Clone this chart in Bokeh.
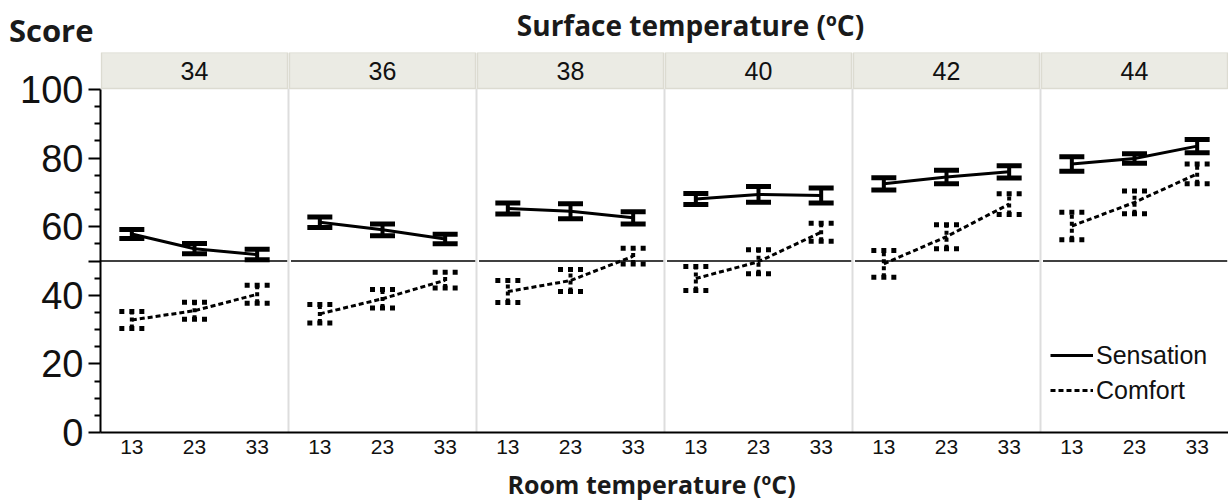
from bokeh.plotting import figure
from bokeh.layouts import column
from bokeh.models import (Range1d, FixedTicker, Whisker, TeeHead, ColumnDataSource,
                          Legend, LegendItem)
from bokeh.core.properties import value
from bokeh.embed import file_html
from bokeh.resources import INLINE

# ---- data ----
surface = ["34", "36", "38", "40", "42", "44"]          # panel headers (surface temp, ºC)
room = ["13", "23", "33"]                                # x categories (room temp, ºC)
sensation_mean = [[57.9, 53.6, 51.9], [61.3, 59.1, 56.4], [65.3, 64.5, 62.6],
                  [68.1, 69.4, 69.1], [72.5, 74.5, 76.0], [78.3, 79.9, 83.5]]
sensation_err = [[1.3, 1.5, 1.5], [1.5, 1.7, 1.4], [1.6, 2.2, 1.8],
                 [1.6, 2.3, 2.2], [1.8, 2.0, 1.8], [2.1, 1.4, 1.9]]
comfort_mean = [[32.8, 35.5, 40.3], [34.6, 39.0, 44.4], [41.1, 44.3, 51.4],
                [44.9, 49.8, 58.4], [49.2, 57.1, 66.6], [60.2, 67.1, 75.4]]
comfort_err = [[2.5, 2.5, 2.6], [2.7, 2.7, 2.3], [3.2, 3.2, 2.3],
               [3.5, 3.5, 2.6], [3.9, 3.5, 3.0], [4.0, 3.3, 2.9]]
y_major = [0, 20, 40, 50, 60, 80, 100]
neutral = 50

NP = len(surface)
NC = len(room)
YTOP = 110.8
W = 1228
LEFT = 100
TOP_H = 52
BOT_H = 34
MAIN_H = 500 - TOP_H - BOT_H
TITLE_FONT = "Open Sans"


def text_strip(h):
    f = figure(width=W, height=h, x_range=Range1d(LEFT, W), y_range=Range1d(0, h),
               output_backend="svg", toolbar_location=None,
               min_border_left=LEFT, min_border_right=0, min_border_top=0, min_border_bottom=0)
    f.xaxis.visible = False
    f.grid.visible = False
    f.outline_line_color = None
    return f


# ---- top strip with the titles (data units = pixels) ----
top = text_strip(TOP_H)
tya = top.yaxis[0]
score_y = 22.5
tya.ticker = FixedTicker(ticks=[score_y], minor_ticks=[])
tya.major_label_overrides = {score_y: "Score"}
tya.axis_line_color = None
tya.major_tick_line_color = None
tya.minor_tick_line_color = None
tya.major_tick_out = 0
tya.minor_tick_out = 0
tya.major_label_text_font = TITLE_FONT
tya.major_label_text_font_style = "bold"
tya.major_label_text_font_size = "31px"
tya.major_label_text_color = "#1a1a1a"
tya.major_label_standoff = 7
top.text(x=[690], y=[TOP_H - 24], text=["Surface temperature (ºC)"], text_font=value(TITLE_FONT),
         text_font_style="bold", text_font_size="28px", text_color="#1a1a1a",
         text_align="center", text_baseline="middle")

# ---- bottom strip with the x title ----
bot = text_strip(BOT_H)
bot.yaxis.visible = False
bot.text(x=[651], y=[17], text=["Room temperature (ºC)"], text_font=value(TITLE_FONT),
         text_font_style="bold", text_font_size="25px", text_color="#1a1a1a",
         text_align="center", text_baseline="middle")

# ---- main panel figure ----
p = figure(width=W, height=MAIN_H, x_range=Range1d(0, NP * NC), y_range=Range1d(0, YTOP),
           output_backend="svg", toolbar_location=None,
           min_border_left=LEFT, min_border_right=0, min_border_top=0,
           min_border_bottom=MAIN_H - 380)
p.xgrid.visible = False
p.ygrid.visible = False
p.outline_line_color = None
p.background_fill_color = "white"

px = [[i * NC + j + 0.5 for j in range(NC)] for i in range(NP)]

# panel separators, headers, neutral line
p.segment(x0=[i * NC for i in range(1, NP)], x1=[i * NC for i in range(1, NP)],
          y0=0, y1=100.3, line_color="#dddddd", line_width=2)
p.quad(left=[i * NC + 0.015 for i in range(NP)], right=[(i + 1) * NC - 0.015 for i in range(NP)],
       bottom=100.3, top=YTOP, fill_color="#ebebe4", line_color="#dcdbd1", line_width=1.5)
p.text(x=[i * NC + NC / 2 for i in range(NP)], y=[105.5] * NP, text=surface,
       text_font=value("Liberation Sans"), text_font_size="25px", text_color="#111111",
       text_align="center", text_baseline="middle")
p.segment(x0=[0 if i == 0 else i * NC + 0.04 for i in range(NP)],
          x1=[(i + 1) * NC - 0.02 for i in range(NP)],
          y0=neutral, y1=neutral, line_color="black", line_width=1.5)

# series lines
sens_r = p.multi_line(xs=px, ys=sensation_mean, line_color="black", line_width=3)
comf_r = p.multi_line(xs=px, ys=comfort_mean, line_color="black", line_width=3, line_dash="5 3")

# error bars
flat_x = [x for row in px for x in row]
s_m = [v for row in sensation_mean for v in row]
s_e = [v for row in sensation_err for v in row]
c_m = [v for row in comfort_mean for v in row]
c_e = [v for row in comfort_err for v in row]
s_src = ColumnDataSource(dict(x=flat_x, upper=[m + e for m, e in zip(s_m, s_e)],
                              lower=[m - e for m, e in zip(s_m, s_e)]))
c_src = ColumnDataSource(dict(x=flat_x, upper=[m + e for m, e in zip(c_m, c_e)],
                              lower=[m - e for m, e in zip(c_m, c_e)]))
p.add_layout(Whisker(source=s_src, base="x", upper="upper", lower="lower", dimension="height",
                     line_width=4, line_color="black",
                     upper_head=TeeHead(size=25, line_width=5, line_color="black"),
                     lower_head=TeeHead(size=25, line_width=5, line_color="black")))
p.add_layout(Whisker(source=c_src, base="x", upper="upper", lower="lower", dimension="height",
                     line_width=4, line_color="black", line_dash="4 3",
                     upper_head=TeeHead(size=25, line_width=5, line_color="black", line_dash="5 5"),
                     lower_head=TeeHead(size=25, line_width=5, line_color="black", line_dash="5 5")))

# axes
ya = p.yaxis[0]
ya.ticker = FixedTicker(ticks=y_major, minor_ticks=[v for v in range(0, 101, 5) if v not in y_major])
ya.major_label_overrides = {neutral: ""}
ya.bounds = (0, 100)
ya.axis_line_width = 2
ya.major_tick_line_width = 2
ya.minor_tick_line_width = 2
ya.major_tick_out = 12
ya.major_tick_in = 0
ya.minor_tick_out = 6
ya.minor_tick_in = 0
ya.major_label_text_font = "Liberation Sans"
ya.major_label_text_font_size = "38px"
ya.major_label_text_color = "#111111"
ya.major_label_standoff = 5

xa = p.xaxis[0]
xa.ticker = FixedTicker(ticks=flat_x, minor_ticks=[])
xa.major_label_overrides = {x: room[k % NC] for k, x in enumerate(flat_x)}
xa.axis_line_width = 2
xa.major_tick_out = 0
xa.major_tick_in = 0
xa.minor_tick_out = 0
xa.major_label_text_font = "Liberation Sans"
xa.major_label_text_font_size = "21px"
xa.major_label_text_color = "#111111"
xa.major_label_standoff = 7

# legend
legend = Legend(items=[LegendItem(label="Sensation", renderers=[sens_r]),
                       LegendItem(label="Comfort", renderers=[comf_r])],
                location=(950, 27), orientation="vertical",
                background_fill_alpha=0, border_line_color=None,
                label_text_font="Liberation Sans", label_text_font_size="25px",
                label_text_color="#111111",
                glyph_width=43, glyph_height=30, label_height=30, label_standoff=3,
                spacing=5, padding=0, margin=0)
p.add_layout(legend)

layout = column(top, p, bot, spacing=0)
open("out.html", "w").write(file_html(layout, INLINE))
